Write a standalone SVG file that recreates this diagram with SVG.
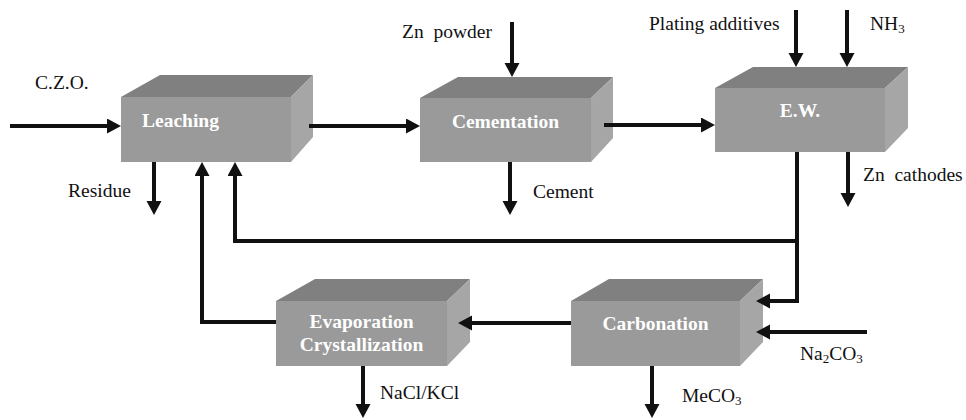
<svg xmlns="http://www.w3.org/2000/svg" width="966" height="420" viewBox="0 0 966 420">
<style>
.front{fill:#9a9a9a}
.top{fill:#808080}
.side{fill:#a6a6a6}
.bt{font-weight:bold;font-size:19.5px;fill:#ffffff}
.lb{font-size:19.5px;fill:#111111}
.ln{fill:none;stroke:#111111;stroke-width:4;stroke-linejoin:miter}
</style>
<defs>
<marker id="ah" markerUnits="userSpaceOnUse" markerWidth="16" markerHeight="16" refX="2" refY="7.5" orient="auto">
<path d="M0,0 L14,7.5 L0,15 Z" fill="#111111"/>
</marker>
</defs>
<rect width="966" height="420" fill="#ffffff"/>

<g font-family="Liberation Serif, Times New Roman, serif">
<g id="leaching">
<polygon class="top" points="121,97 160,75 313,75 291,97"/>
<polygon class="side" points="291,97 313,75 313,137 291,162"/>
<rect class="front" x="121" y="97" width="170" height="65"/>
<text class="bt" x="142" y="127">Leaching</text>
</g>

<g id="cementation">
<polygon class="top" points="420,98 458,77 613,77 591,98"/>
<polygon class="side" points="591,98 613,77 613,138 591,162"/>
<rect class="front" x="420" y="98" width="171" height="64"/>
<text class="bt" x="505.5" y="128" text-anchor="middle">Cementation</text>
</g>

<g id="ew">
<polygon class="top" points="715,88 753,67 908,67 885,88"/>
<polygon class="side" points="885,88 908,67 908,128 885,152"/>
<rect class="front" x="715" y="88" width="170" height="64"/>
<text class="bt" x="800" y="117" text-anchor="middle">E.W.</text>
</g>

<g id="evaporation">
<polygon class="top" points="276,301 315,279 470,279 447,301"/>
<polygon class="side" points="447,301 470,279 470,342 447,366"/>
<rect class="front" x="276" y="301" width="171" height="65"/>
<text class="bt" x="361.5" y="328" text-anchor="middle">Evaporation</text>
<text class="bt" x="361.5" y="351" text-anchor="middle">Crystallization</text>
</g>

<g id="carbonation">
<polygon class="top" points="571,301 609,279 763,279 740,301"/>
<polygon class="side" points="740,301 763,279 763,342 740,366"/>
<rect class="front" x="571" y="301" width="169" height="65"/>
<text class="bt" x="655.5" y="330" text-anchor="middle">Carbonation</text>
</g>

<g id="connectors">
<path class="ln" d="M10,126 H109" marker-end="url(#ah)"/>
<path class="ln" d="M154,162 V203" marker-end="url(#ah)"/>
<path class="ln" d="M309,126 H408" marker-end="url(#ah)"/>
<path class="ln" d="M512,22 V65" marker-end="url(#ah)"/>
<path class="ln" d="M510,162 V203" marker-end="url(#ah)"/>
<path class="ln" d="M604,125 H703" marker-end="url(#ah)"/>
<path class="ln" d="M796,10 V55" marker-end="url(#ah)"/>
<path class="ln" d="M847,10 V55" marker-end="url(#ah)"/>
<path class="ln" d="M848,152 V195" marker-end="url(#ah)"/>
<path class="ln" d="M797,152 V301 H768" marker-end="url(#ah)"/>
<path class="ln" d="M797,241 H235 V174" marker-end="url(#ah)"/>
<path class="ln" d="M867,332 H768" marker-end="url(#ah)"/>
<path class="ln" d="M571,323 H470" marker-end="url(#ah)"/>
<path class="ln" d="M276,322 H202 V174" marker-end="url(#ah)"/>
<path class="ln" d="M363,366 V406" marker-end="url(#ah)"/>
<path class="ln" d="M652,366 V406" marker-end="url(#ah)"/>
</g>

<g id="labels">
<text class="lb" x="35" y="89">C.Z.O.</text>
<text class="lb" x="68" y="197">Residue</text>
<text class="lb" x="402" y="38" xml:space="preserve">Zn  powder</text>
<text class="lb" x="533" y="198">Cement</text>
<text class="lb" x="649" y="30">Plating additives</text>
<text class="lb" x="870" y="30">NH<tspan font-size="13" dy="3">3</tspan></text>
<text class="lb" x="863" y="181" xml:space="preserve">Zn  cathodes</text>
<text class="lb" x="800" y="360">Na<tspan font-size="13" dy="3">2</tspan><tspan dy="-3">CO</tspan><tspan font-size="13" dy="3">3</tspan></text>
<text class="lb" x="380" y="399">NaCl/KCl</text>
<text class="lb" x="682" y="402">MeCO<tspan font-size="13" dy="3">3</tspan></text>
</g>
</g>
</svg>
